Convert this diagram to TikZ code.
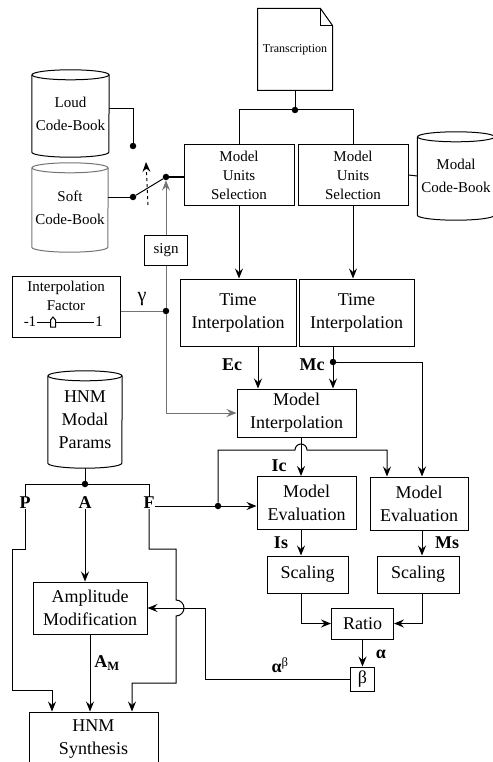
\documentclass[tikz,border=0pt]{standalone}
\usepackage{fontspec}
\setmainfont{Liberation Serif}
\usetikzlibrary{arrows.meta}
\tikzset{
  blk/.style={draw, line width=1pt, inner sep=0pt, align=center, font=\fontsize{18}{23}\selectfont},
  sblk/.style={blk, font=\fontsize{15}{19}\selectfont},
  cbtext/.style={inner sep=0pt, align=center, font=\fontsize{15}{23}\selectfont},
  lbl/.style={inner sep=0pt, font=\fontsize{18}{22}\selectfont\bfseries},
  jdot/.style={circle, fill, inner sep=0pt, minimum size=6.5pt},
  wire/.style={line width=1pt},
  link/.style={wire, -{Stealth[length=10pt, width=8pt, inset=3.5pt]}},
  greyline/.style={draw=black!55},
}
% code-book cylinder: name, position, width, height, text, node options, line options
\newcommand{\codeBook}[7]{%
  \node [cbtext, minimum width=#3pt, minimum height=#4pt, #6] (#1) at (#2) {#5};
  \draw [wire, #7] (#1.north west) -- (#1.south west)
    arc [start angle=180, end angle=0, x radius=#3/2, y radius=5] -- (#1.north east);
  \draw [wire, #7] (#1.north) ellipse [x radius=#3/2, y radius=5];
}

\begin{document}
\begin{tikzpicture}[x=1pt, y=-1pt]
\useasboundingbox (0,0) rectangle (492,762);

% transcription and unit selection
\node [blk, draw=none, font=\fontsize{12}{14}\selectfont] (trans) at (295,49.5) [minimum width=74pt, minimum height=81pt] {Transcription};
\draw [wire] (trans.north west) -- ([xshift=-12pt]trans.north east) -- ([yshift=-17pt]trans.north east) -- (trans.south east) -- (trans.south west) -- cycle;
\draw [wire] ([xshift=-12pt]trans.north east) |- ([yshift=-17pt]trans.north east);
\node [jdot] (tdot) at (295,110) {};

\node [sblk] (mus1) at (239,175) [minimum width=110pt, minimum height=60pt] {Model\\Units\\Selection};
\node [sblk] (mus2) at (353,175) [minimum width=110pt, minimum height=60pt] {Model\\Units\\Selection};

\codeBook{modal}{456,176}{77}{78}{Modal\\Code-Book}{}{}
\codeBook{loud}{70.5,113.5}{77}{77}{Loud\\Code-Book}{}{}
\codeBook{soft}{70,207.5}{76}{79}{Soft\\Code-Book}{}{greyline}

% switch
\node [jdot] (ldot) at (133,146) {};
\node [jdot] (sdot) at (133,197) {};
\node [jdot] (pdot) at (166,177) {};
\coordinate (swa) at (148,205);
\coordinate (swb) at (146,162);

% interpolation factor
\node [sblk] (sign) at (166,250) [minimum width=43pt, minimum height=30pt] {sign};
\node [blk] (ifac) at (66,306.5) [minimum width=108pt, minimum height=61pt] {};
\node [cbtext, font=\fontsize{15}{19}\selectfont] (ifact) at (66,295.5) {Interpolation\\Factor};
\node [inner sep=1pt, font=\fontsize{15}{19}\selectfont] (lo) at (30,322) {-1};
\node [inner sep=1pt, font=\fontsize{15}{19}\selectfont] (hi) at (99,322) {1};
\coordinate (knob) at (53,322);
\node [jdot] (gdot) at (166,311) {};
\node [inner sep=0pt, font=\fontsize{20}{22}\selectfont] (gam) at (142,299) {γ};

% time and model interpolation
\node [blk] (ti1) at (238,312.5) [minimum width=116pt, minimum height=67pt] {Time\\Interpolation};
\node [blk] (ti2) at (356.5,312.5) [minimum width=115pt, minimum height=67pt] {Time\\Interpolation};
\node [blk] (mi) at (296.5,413) [minimum width=119pt, minimum height=48pt] {Model\\Interpolation};
\node [jdot] (mdot) at (333,362) {};
\node [lbl] (ec) at (232,365) {Ec};
\node [lbl] (mc) at (312,365) {Mc};

% evaluation, scaling, ratio
\node [blk] (me1) at (306.5,503) [minimum width=99pt, minimum height=53pt] {Model\\Evaluation};
\node [blk] (me2) at (419,503.5) [minimum width=98pt, minimum height=53pt] {Model\\Evaluation};
\node [blk] (s1) at (307.5,574.5) [minimum width=81pt, minimum height=37pt] {Scaling};
\node [blk] (s2) at (418,574.5) [minimum width=82pt, minimum height=37pt] {Scaling};
\node [blk] (ratio) at (362.5,623.5) [minimum width=62pt, minimum height=31pt] {Ratio};
\node [blk] (beta) at (362.5,679) [minimum width=24pt, minimum height=24pt] {β};
\node [lbl] (ic) at (279,466) {Ic};
\node [lbl] (is) at (281,543) {Is};
\node [lbl] (ms) at (447,543) {Ms};
\node [lbl] (al) at (381,654) {α};
\node [lbl] (ab) at (280,665) {α\textsuperscript{\mdseries β}};
\coordinate (colE) at (258,0);
\coordinate (colI) at (301,0);
\coordinate (colM) at (422,0);
\coordinate (colF) at (387,0);
\coordinate (hop1) at (301,450);

% HNM side
\codeBook{hnm}{85,419.5}{74}{87}{HNM\\Modal\\Params}{font=\fontsize{18}{23}\selectfont}{}
\node [jdot] (adot) at (85,484) {};
\node [lbl] (lP) at (25,503) {P};
\node [lbl] (lA) at (85,503) {A};
\node [lbl] (lF) at (149,503) {F};
\node [jdot] (fdot) at (218,506) {};
\node [blk] (am) at (90,608) [minimum width=114pt, minimum height=52pt] {Amplitude\\Modification};
\node [blk] (syn) at (93.5,739) [minimum width=129pt, minimum height=54pt] {HNM\\Synthesis};
\node [lbl] (amlab) at (107,663) {A\textsubscript{M}};
\coordinate (abturn) at (205,608);
\coordinate (hop2) at (176,608);

% connectors
\draw [wire] (trans.south) -- (tdot);
\draw [wire] (mus1.north) |- (tdot) -| (mus2.north);
\draw [wire] (mus2.east) -- (modal.west);
\draw [wire] ([yshift=4.5pt]loud.east) -| (ldot);
\draw [wire] (sdot -| soft.east) -- (sdot);
\draw [wire] (sdot) -- (pdot);
\draw [wire] (pdot) -- (pdot -| mus1.west);
\draw [link, dashed] (swa) -- (swb);
\draw [link, greyline] (sign.north) -- (pdot);
\draw [wire, greyline] (sign.south) -- (gdot);
\draw [wire, greyline] (gdot -| ifac.east) -- (gdot);
\draw [link, greyline] (gdot) |- (mi.west);
\draw [wire] (lo.east) -- (hi.west);
\draw [wire, fill=white] ([shift={(-2.5,5)}]knob) -- ++(5,0) -- ++(0,-7) -- ++(-2.5,-3) -- ++(-2.5,3) -- cycle;

\draw [link] (mus1.south) -- (mus1.south |- ti1.north);
\draw [link] (mus2.south) -- (mus2.south |- ti2.north);
\draw [link] (ti1.south -| colE) -- (mi.north -| colE);
\draw [wire] (ti2.south -| mdot) -- (mdot);
\draw [link] (mdot) -- (mi.north -| mdot);
\draw [link] (mdot) -| (me2.north -| colM);

\draw [link] (mi.south -| colI) -- (me1.north -| colI);
\draw [wire] (lF.east |- fdot) -- (fdot);
\draw [link] (fdot) -- (fdot -| me1.west);
\draw [link] (fdot) |- ([xshift=-6pt]hop1) arc [start angle=180, end angle=360, radius=6] -| (me2.north -| colF);
\draw [link] (me1.south -| colI) -- (s1.north -| colI);
\draw [link] (me2.south -| colM) -- (s2.north -| colM);
\draw [link] (s1.south -| colI) |- (ratio.west);
\draw [link] (s2.south -| colM) |- (ratio.east);
\draw [link] (ratio.south) -- (beta.north);
\draw [link] (beta.west) -| (abturn) -- (am.east);

\draw [wire] ([yshift=-5pt]hnm.south) -- (adot);
\draw [wire] (lP.north) |- (adot) -| (lF.north);
\draw [link] (lA.south) -- (lA.south |- am.north);
\draw [link] (am.south) -- (am.south |- syn.north);
\draw [link] (lP.south) -- ++(0,40) -- ++(-13,0) -- ++(0,141) -| ([xshift=-41.5pt]syn.north);
\draw [link] (lF.south) -- ++(0,40) -- ++(27,0) -- ([yshift=8pt]hop2) arc [start angle=-90, end angle=90, radius=8] -- ++(0,67) -| ([xshift=38.5pt]syn.north);
\end{tikzpicture}
\end{document}
